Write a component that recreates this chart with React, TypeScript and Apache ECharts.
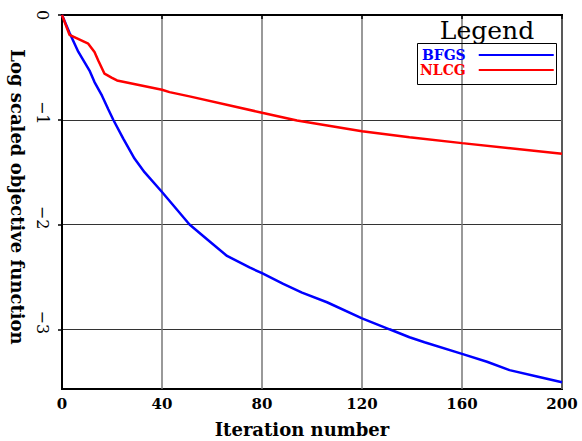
import React, { useEffect, useRef } from "react";
import * as echarts from "echarts";

const seriesNames = ["BFGS", "NLCG"];
const bfgsIter = [0, 3, 6.5, 11, 13, 16, 18.5, 20.5, 24.5, 29, 33, 40, 45, 51, 58, 66, 75, 80, 88.5, 96, 106, 120, 131, 139, 145, 160, 170, 179, 190, 200];
const bfgsVal = [0, -0.17, -0.35, -0.53, -0.64, -0.77, -0.9, -1.0, -1.18, -1.37, -1.5, -1.69, -1.83, -2.0, -2.14, -2.3, -2.41, -2.465, -2.567, -2.65, -2.742, -2.895, -3.0, -3.076, -3.124, -3.235, -3.31, -3.39, -3.45, -3.506];
const nlcgIter = [0, 3, 10.5, 13, 14.5, 17, 20, 22, 40, 43, 51, 80, 94, 120, 139, 160, 200];
const nlcgVal = [0, -0.19, -0.274, -0.354, -0.434, -0.56, -0.6, -0.625, -0.713, -0.736, -0.777, -0.933, -1.007, -1.109, -1.166, -1.223, -1.325];
const xTicks = [0, 40, 80, 120, 160, 200];
const yTicks = [0, -1, -2, -3];
const colors = ["#0000ff", "#ff0000"];

const FONT = "DejaVu Serif";

export default function App() {
  const ref = useRef<HTMLDivElement>(null);
  useEffect(() => {
    const chart = echarts.init(ref.current!, null, { renderer: "svg" });
    const fmt = (v: number) =>
      v < 0 ? "{n|" + String(v).replace("-", "\u2212") + "}" : "{z|" + String(v) + "}";
    const labelStyle = { fontFamily: FONT, fontWeight: "normal", fontSize: 16, color: "#000" };
    chart.setOption({
      animation: false,
      backgroundColor: "#fff",
      grid: {
        left: 62,
        right: 20,
        top: 15,
        bottom: 52,
        show: true,
        borderColor: "#000",
        borderWidth: 2,
        outerBoundsMode: "none",
        containLabel: false,
      },
      legend: {
        orient: "vertical",
        align: "right",
        left: 415,
        top: 43,
        padding: 5,
        itemWidth: 75,
        itemHeight: 12,
        itemGap: 1,
        icon: "path://M0,5L75,5L75,7L0,7Z",
        data: seriesNames.map((n, i) => ({
          name: n,
          textStyle: { color: colors[i] },
        })),
        textStyle: {
          fontFamily: FONT,
          fontWeight: "bold",
          fontSize: 14,
          padding: [0, 8, 0, 0],
        },
      },
      graphic: [
        {
          type: "rect",
          shape: { x: 417.5, y: 43.5, width: 139, height: 41 },
          style: { fill: "none", stroke: "#000", lineWidth: 1 },
          z: 10,
        },
        {
          type: "text",
          x: 487,
          y: 30,
          style: {
            text: "Legend",
            fontFamily: FONT,
            fontSize: 25,
            fill: "#000",
            align: "center",
            verticalAlign: "middle",
          },
          z: 10,
        },
      ],
      xAxis: {
        type: "value",
        min: 0,
        max: 200,
        interval: 40,
        name: "Iteration number",
        nameLocation: "middle",
        nameGap: 31,
        nameTextStyle: {
          fontFamily: FONT,
          fontWeight: "bold",
          fontSize: 18,
          color: "#000",
          padding: [0, 20, 0, 0],
        },
        axisLine: { lineStyle: { color: "#000", width: 2 } },
        axisTick: { length: 4, lineStyle: { color: "#000", width: 1.5 } },
        axisLabel: {
          fontFamily: FONT,
          fontWeight: "bold",
          fontSize: 15,
          color: "#000",
          margin: 7,
        },
        splitLine: { show: true, lineStyle: { color: "#777", width: 1.5 } },
      },
      yAxis: {
        type: "value",
        min: -3.57,
        max: 0,
        name: "Log scaled objective function",
        nameLocation: "middle",
        nameRotate: -90,
        nameGap: 36,
        nameTextStyle: {
          fontFamily: FONT,
          fontWeight: "bold",
          fontSize: 18,
          color: "#000",
          padding: [0, 10, 0, 0],
        },
        axisLine: { lineStyle: { color: "#000", width: 2 } },
        axisTick: { length: 4, customValues: yTicks, lineStyle: { color: "#000", width: 1.5 } },
        axisLabel: {
          customValues: yTicks,
          rotate: -90,
          ...labelStyle,
          margin: 12,
          formatter: fmt,
          rich: {
            n: { ...labelStyle, padding: [0, 14, 0, 0] },
            z: { ...labelStyle },
          },
        },
        splitLine: { show: true, lineStyle: { color: "#333", width: 1 } },
      },
      series: [
        {
          name: seriesNames[0],
          type: "line",
          showSymbol: false,
          data: bfgsIter.map((x, i) => [x, bfgsVal[i]]),
          lineStyle: { color: colors[0], width: 2.5 },
          itemStyle: { color: colors[0] },
          z: 3,
        },
        {
          name: seriesNames[1],
          type: "line",
          showSymbol: false,
          data: nlcgIter.map((x, i) => [x, nlcgVal[i]]),
          lineStyle: { color: colors[1], width: 2.5 },
          itemStyle: { color: colors[1] },
          z: 3,
        },
      ],
    });
    return () => chart.dispose();
  }, []);
  return <div ref={ref} style={{ width: 582, height: 441, position: "absolute", left: 0, top: 0 }} />;
}
